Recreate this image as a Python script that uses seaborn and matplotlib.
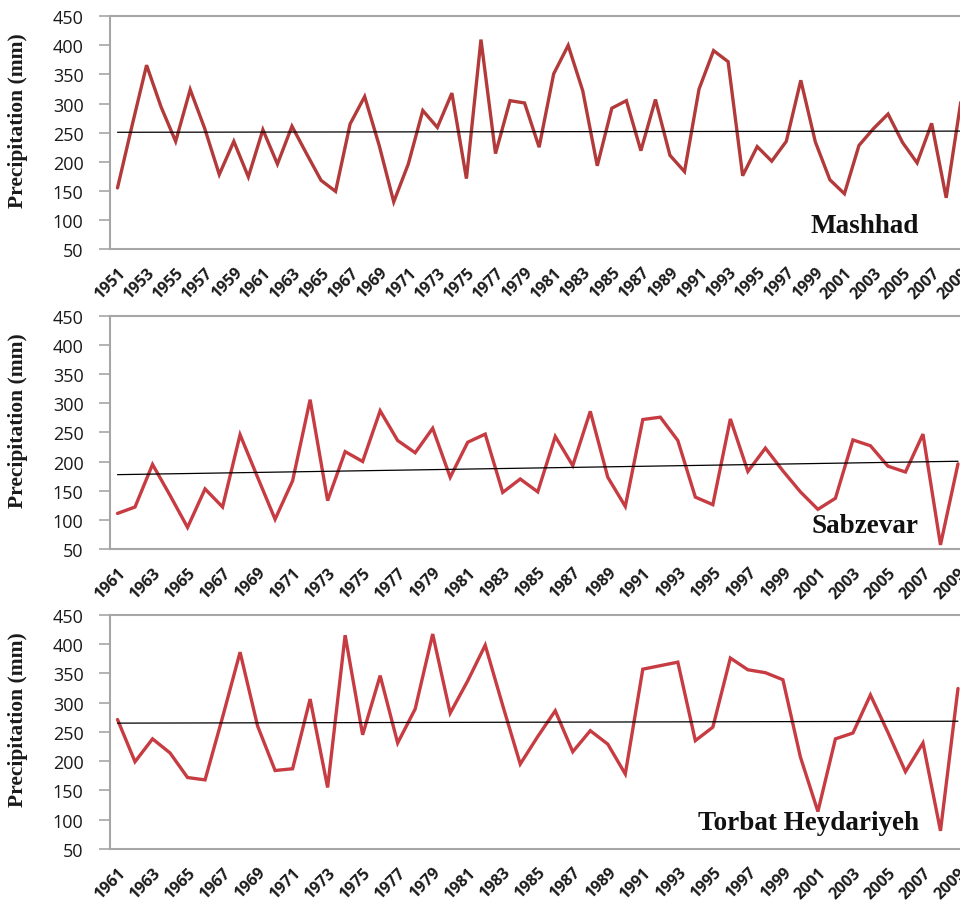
import numpy as np
import pandas as pd
import matplotlib
matplotlib.use("Agg")
import matplotlib.pyplot as plt
import seaborn as sns

# Annual precipitation (mm) for three stations in Khorasan
mashhad_years = list(range(1951, 2010))
mashhad_precip = [155, 262, 366, 294, 235, 324, 257, 178, 235, 174,
                  255, 196, 261, 214, 168, 149, 265, 312, 228, 131,
                  196, 288, 259, 318, 171, 410, 214, 305, 301, 225,
                  351, 400, 322, 193, 292, 305, 219, 307, 211, 183,
                  325, 391, 372, 176, 226, 201, 235, 340, 234, 169,
                  145, 228, 257, 282, 233, 198, 266, 138, 302]

sabzevar_years = list(range(1961, 2010))
sabzevar_precip = [111, 122, 195, 142, 87, 153, 122, 246, 173, 101,
                   167, 306, 133, 217, 200, 287, 236, 215, 257, 173,
                   233, 247, 147, 170, 148, 243, 193, 286, 173, 123,
                   272, 276, 236, 139, 126, 273, 183, 223, 184, 148,
                   118, 137, 237, 227, 192, 182, 247, 57, 196]

torbat_years = list(range(1961, 2010))
torbat_precip = [271, 199, 238, 214, 172, 168, 275, 386, 260, 184,
                 187, 306, 155, 415, 245, 346, 231, 289, 417, 282,
                 337, 398, 295, 195, 242, 286, 216, 252, 229, 178,
                 357, 363, 369, 235, 258, 376, 356, 351, 339, 207,
                 114, 238, 248, 313, 249, 182, 231, 81, 324]

station_names = ["Mashhad", "Sabzevar", "Torbat Heydariyeh"]
y_ticks = [50, 100, 150, 200, 250, 300, 350, 400, 450]

series = [
    (mashhad_years, mashhad_precip, "#b33a3a"),
    (sabzevar_years, sabzevar_precip, "#c63c42"),
    (torbat_years, torbat_precip, "#c63c42"),
]

sns.set_theme(style="white")
plt.rcParams["font.family"] = ["Open Sans", "DejaVu Sans"]

W, H = 960, 903
fig = plt.figure(figsize=(W / 100, H / 100), dpi=100)

# panel boxes in pixels: (left, top, bottom); axes run a little past the right edge
boxes = [(110, 17.3, 250), (110, 316.7, 550), (110, 615.7, 850)]
right_px = W + 20
label_base = [0.073, 0.074, 0.085]
axis_grey = "#a6a6a6"

for i, ((years, vals, col), (l, t, b)) in enumerate(zip(series, boxes)):
    ax_w = right_px - l
    ax = fig.add_axes([l / W, 1 - b / H, ax_w / W, (b - t) / H])
    df = pd.DataFrame({"Year": years, "Precipitation": vals})

    sns.lineplot(data=df, x="Year", y="Precipitation", ax=ax,
                 color=col, lw=2.4, solid_joinstyle="miter")
    # linear trend line
    sns.regplot(data=df, x="Year", y="Precipitation", ax=ax, scatter=False,
                ci=None, truncate=True,
                line_kws=dict(color="black", lw=0.9))

    first = years[0]
    span = 14.53 if i == 0 else 17.5
    ax.set_xlim(first - 7.5 / span, first + (right_px - 118) / span)
    ax.set_ylim(50, 450)
    ax.set_yticks(y_ticks)
    ax.set_yticklabels([str(v) for v in y_ticks], fontsize=13,
                       color="#1a1a1a")
    xt = list(range(first, 2010, 2))
    ax.set_xticks(xt)
    ax.set_xticklabels([str(v) for v in xt], fontsize=11.5,
                       fontweight="bold", rotation=45, ha="right",
                       rotation_mode="anchor", color="#1a1a1a")
    ax.tick_params(axis="y", direction="out", length=8, width=1.2,
                   color=axis_grey, pad=11, left=True)
    ax.tick_params(axis="x", length=0, pad=11)

    for side in ["left", "top", "bottom"]:
        ax.spines[side].set_visible(True)
        ax.spines[side].set_color(axis_grey)
        ax.spines[side].set_linewidth(1.5)
    ax.spines["right"].set_visible(False)

    ax.set_xlabel("")
    ax.set_ylabel("Precipitation (mm)", family="Liberation Serif",
                  fontweight="bold", fontsize=15.5, color="#1a1a1a")
    ax.yaxis.set_label_coords((28 - l) / ax_w, 0.555)

    ax.text((919 - l) / ax_w, label_base[i], station_names[i],
            transform=ax.transAxes, ha="right", va="baseline",
            family="Liberation Serif", fontweight="bold", fontsize=19.5,
            color="#111111")

fig.savefig("out.png", dpi=100)
